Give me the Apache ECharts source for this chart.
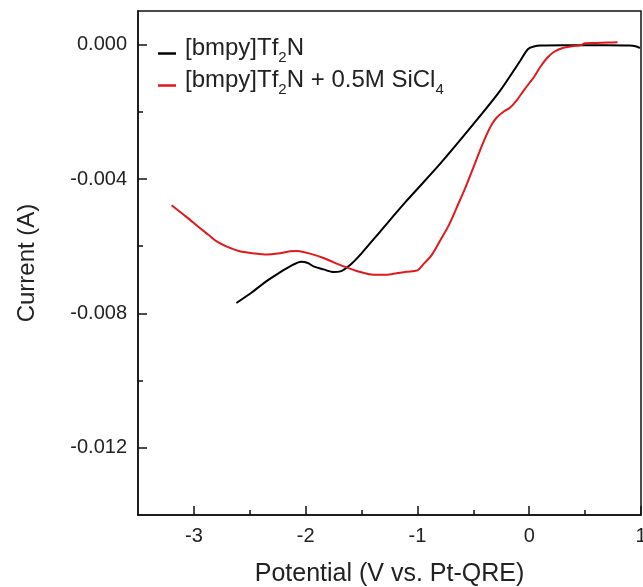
<!DOCTYPE html>
<html>
<head>
<meta charset="utf-8">
<script src="https://cdn.jsdelivr.net/npm/echarts@6/dist/echarts.min.js"></script>
<style>
html,body{margin:0;padding:0;background:#fff;}
#chart{width:643px;height:587px;}
</style>
</head>
<body>
<div id="chart"></div>
<script>
// Potential (V vs. Pt-QRE) / Current (A)
var blackX = [-2.62, -2.48, -2.35, -2.24, -2.14, -2.04, -1.98, -1.93, -1.84, -1.75, -1.69, -1.60, -1.51, -1.33, -1.10, -0.80, -0.50, -0.26, -0.08, -0.01, 0.05, 0.10, 0.30, 0.50, 0.70, 0.90, 0.95, 0.99];
var blackY = [-0.00769, -0.00737, -0.00704, -0.00680, -0.00660, -0.00646, -0.00650, -0.00660, -0.00669, -0.00677, -0.00675, -0.00655, -0.00625, -0.00555, -0.00466, -0.00356, -0.00237, -0.00137, -0.00048, -0.00013, -0.00005, -0.00003, -0.00002, -0.00002, -0.00002, -0.00003, -0.00005, -0.00010];
var redX = [-3.20, -3.07, -2.95, -2.87, -2.80, -2.70, -2.59, -2.47, -2.35, -2.25, -2.14, -2.08, -2.02, -1.93, -1.84, -1.75, -1.66, -1.55, -1.39, -1.25, -1.10, -1.00, -0.95, -0.87, -0.80, -0.72, -0.65, -0.57, -0.50, -0.44, -0.38, -0.33, -0.29, -0.23, -0.17, -0.11, -0.05, 0.00, 0.04, 0.10, 0.16, 0.22, 0.30, 0.40, 0.46, 0.50, 0.60, 0.70, 0.79];
var redY = [-0.00478, -0.00512, -0.00545, -0.00566, -0.00585, -0.00602, -0.00615, -0.00621, -0.00625, -0.00622, -0.00615, -0.00614, -0.00617, -0.00625, -0.00635, -0.00648, -0.00660, -0.00673, -0.00685, -0.00684, -0.00676, -0.00672, -0.00655, -0.00625, -0.00585, -0.00538, -0.00486, -0.00425, -0.00366, -0.00315, -0.00267, -0.00235, -0.00217, -0.00200, -0.00187, -0.00165, -0.00137, -0.00115, -0.00098, -0.00066, -0.00040, -0.00022, -0.00010, -0.00004, -0.00002, 0.00004, 0.00005, 0.00006, 0.00007];
var seriesNames = ['[bmpy]Tf2N', '[bmpy]Tf2N + 0.5M SiCl4'];
var xMajorTicks = [-3, -2, -1, 0, 1];
var xMinorTicks = [-2.5, -1.5, -0.5, 0.5];
var yMajorTicks = [0, -0.004, -0.008, -0.012];
var yMinorTicks = [-0.002, -0.006, -0.010];

function pairs(xs, ys) { return xs.map(function (x, i) { return [x, ys[i]]; }); }

var chart = echarts.init(document.getElementById('chart'));
var FONT = 'Liberation Sans, Arial, sans-serif';
var axisColor = '#111';
var textColor = '#222';

function tickAxis(min, max, ticks, len, pos) {
  return {
    type: 'value', min: min, max: max, position: pos,
    axisLine: { show: false, onZero: false },
    axisTick: { show: true, inside: true, length: len, customValues: ticks, lineStyle: { color: axisColor, width: 1.5 } },
    axisLabel: { show: false },
    splitLine: { show: false }
  };
}

var option = {
  animation: false,
  backgroundColor: '#fff',
  grid: { left: 138, right: 2, top: 11, bottom: 72, outerBoundsMode: 'none', containLabel: false,
    show: true, borderColor: axisColor, borderWidth: 1.5, backgroundColor: 'transparent' },
  legend: {
    orient: 'vertical', left: 153, top: 31, itemGap: 3,
    itemWidth: 18, itemHeight: 2.5, icon: 'rect',
    data: seriesNames,
    formatter: function (n) {
      if (n === seriesNames[0]) return '{a|[bmpy]Tf}{s|2}{a|N}';
      return '{a|[bmpy]Tf}{s|2}{a|N + 0.5M SiCl}{s|4}';
    },
    textStyle: {
      fontFamily: FONT, fontSize: 24, color: textColor, padding: [0, 0, 6, 4],
      rich: {
        a: { fontFamily: FONT, fontSize: 24, color: textColor, verticalAlign: 'top', lineHeight: 25 },
        s: { fontFamily: FONT, fontSize: 15, color: textColor, verticalAlign: 'bottom', lineHeight: 29 }
      }
    }
  },
  xAxis: [{
    type: 'value', min: -3.5, max: 1, position: 'bottom',
    name: 'Potential (V vs. Pt-QRE)', nameLocation: 'middle', nameGap: 47,
    nameTextStyle: { fontFamily: FONT, fontSize: 25, color: textColor },
    axisLine: { show: true, onZero: false, lineStyle: { color: axisColor, width: 1.5 } },
    axisTick: { show: false },
    axisLabel: { show: true, customValues: xMajorTicks, margin: 11, fontFamily: FONT, fontSize: 20, color: textColor,
      formatter: function (v) { return String(v); } },
    splitLine: { show: false }
  }, tickAxis(-3.5, 1, xMajorTicks, 9, 'bottom'), tickAxis(-3.5, 1, xMinorTicks, 5, 'bottom')],
  yAxis: [{
    type: 'value', min: -0.014, max: 0.001, position: 'left',
    name: 'Current (A)', nameLocation: 'middle', nameGap: 99,
    nameTextStyle: { fontFamily: FONT, fontSize: 24, color: textColor },
    axisLine: { show: true, onZero: false, lineStyle: { color: axisColor, width: 1.5 } },
    axisTick: { show: false },
    axisLabel: { show: true, customValues: yMajorTicks, margin: 11, fontFamily: FONT, fontSize: 20, color: textColor,
      formatter: function (v) { return v.toFixed(3); } },
    splitLine: { show: false }
  }, tickAxis(-0.014, 0.001, yMajorTicks, 9, 'left'), tickAxis(-0.014, 0.001, yMinorTicks, 5, 'left')],
  series: [{
    name: seriesNames[0], type: 'line', showSymbol: false, smooth: 0.3,
    xAxisIndex: 0, yAxisIndex: 0,
    data: pairs(blackX, blackY),
    lineStyle: { color: '#000', width: 2 }, itemStyle: { color: '#000' }
  }, {
    name: seriesNames[1], type: 'line', showSymbol: false, smooth: 0.3,
    xAxisIndex: 0, yAxisIndex: 0,
    data: pairs(redX, redY),
    lineStyle: { color: '#e0191c', width: 2 }, itemStyle: { color: '#e0191c' }
  }]
};
chart.setOption(option);
</script>
</body>
</html>
